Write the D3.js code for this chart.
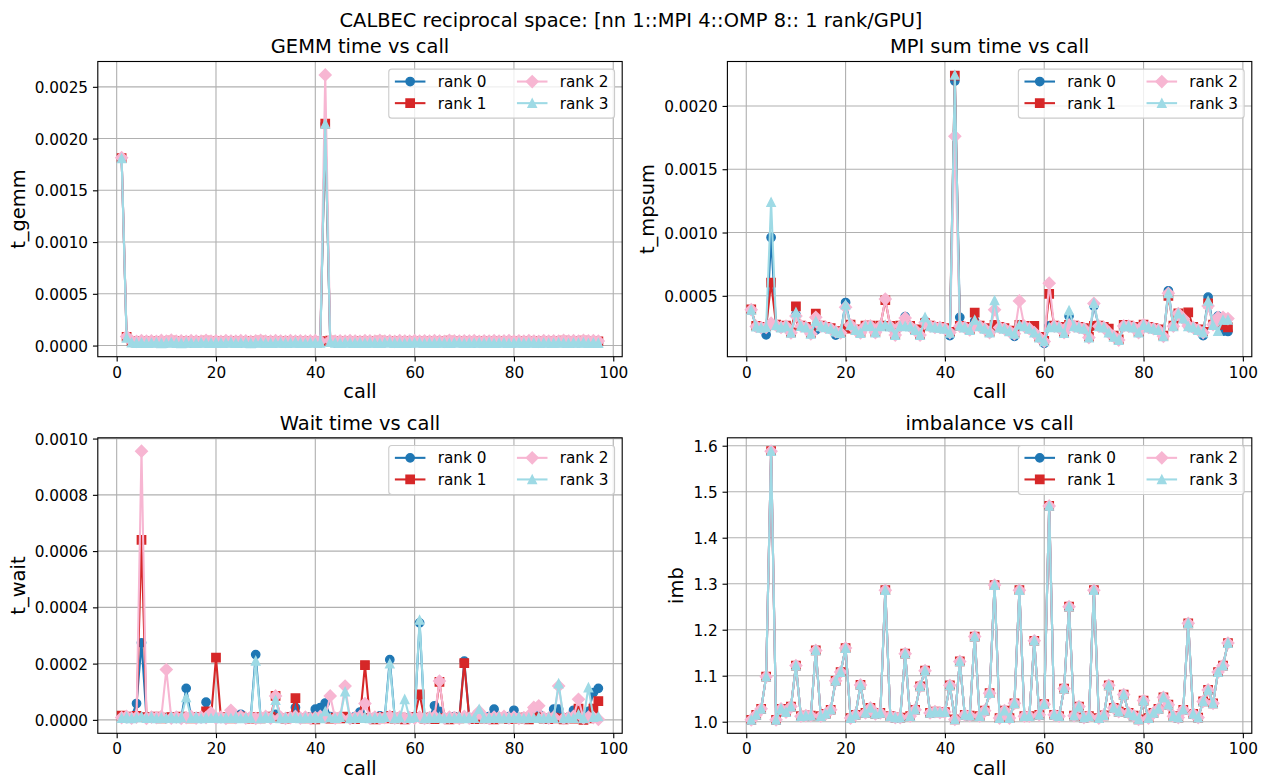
<!DOCTYPE html>
<html>
<head>
<meta charset="utf-8">
<script src="https://cdn.jsdelivr.net/npm/d3@7/dist/d3.min.js"></script>
<style>
html,body{margin:0;padding:0;background:#fff;}
svg text{font-family:"DejaVu Sans",sans-serif;fill:#000;}
</style>
</head>
<body>
<svg id="chart" width="1262" height="781"></svg>
<script>
// ================= DATA =================
const calls = d3.range(1, 98); // call index 1..97
const rankLabels = ["rank 0", "rank 1", "rank 2", "rank 3"];
const xTicks = [0, 20, 40, 60, 80, 100];
const gemmTicks = [0, 0.0005, 0.0010, 0.0015, 0.0020, 0.0025];
const mpsumTicks = [0.0005, 0.0010, 0.0015, 0.0020];
const waitTicks = [0, 0.0002, 0.0004, 0.0006, 0.0008, 0.0010];
const imbTicks = [1.0, 1.1, 1.2, 1.3, 1.4, 1.5, 1.6];

// GEMM time per call (microseconds)
const gemmRank0 = [1810,80,30,26,28,25,27,30,24,26, 33,25,24,28,26,24,30,27,25,29, 25,27,31,24,26,29,24,28,30,25, 24,27,29,25,26,31,25,24,28,27, 26,2140,35,26,24,29,27,25,30,25, 28,26,24,29,31,25,27,24,26,30, 28,24,27,25,29,26,24,28,30,24, 27,26,29,25,31,24,27,28,24,26, 30,25,29,27,24,28,26,25,30,27, 24,29,26,31,24,28,25];
const gemmRank1 = [1812,85,42,38,45,40,44,39,46,41, 48,40,43,39,45,42,40,47,41,44, 39,46,42,40,45,43,38,44,47,41, 40,45,42,39,46,41,44,40,43,45, 42,2145,48,41,44,40,46,42,39,45, 43,40,47,41,44,39,45,42,40,46, 41,44,40,45,42,39,47,43,40,44, 42,46,39,44,41,45,40,43,46,41, 44,40,45,42,39,46,41,44,40,47, 42,45,40,48,43,46,41];
const gemmRank2 = [1815,88,45,40,48,42,46,41,50,43, 52,42,45,41,47,44,42,49,43,46, 41,48,44,42,47,45,40,46,49,43, 42,47,44,41,48,43,46,42,45,47, 44,2615,50,43,46,42,48,44,41,47, 45,42,49,43,46,41,47,44,42,48, 43,46,42,47,44,41,49,45,42,46, 44,48,41,46,43,47,42,45,48,43, 46,42,47,44,41,48,43,46,42,49, 44,47,42,50,45,48,43];
const gemmRank3 = [1808,75,28,24,27,23,26,28,22,25, 30,24,22,27,25,23,28,26,24,27, 24,26,29,23,25,27,22,26,28,24, 23,26,28,24,25,29,24,23,27,26, 25,2142,32,25,23,27,26,24,28,24, 27,25,23,28,29,24,26,23,25,28, 27,23,26,24,28,25,23,27,28,23, 26,25,28,24,29,23,26,27,23,25, 28,24,28,26,23,27,25,24,28,26, 23,28,25,29,23,27,24];

// MPI sum time per call (microseconds)
const mpsumRank0 = [385,255,245,192,961,265,248,258,205,350, 262,248,198,230,258,250,238,190,205,447, 268,228,205,258,262,208,258,262,255,188, 258,336,255,228,188,300,258,248,246,238, 185,2196,330,248,228,300,258,238,208,262, 248,238,218,180,270,258,238,208,168,125, 262,258,248,205,340,258,248,238,168,420, 258,248,208,175,148,258,258,248,208,268, 248,238,228,178,540,258,360,318,258,248, 228,185,490,268,340,220,218];
const mpsumRank1 = [392,262,252,255,605,272,252,265,212,416, 265,255,205,360,265,255,245,222,212,240, 272,235,212,265,265,215,265,465,262,195, 265,270,262,235,195,285,265,255,255,245, 215,2240,262,255,235,368,265,245,215,270, 255,245,225,205,270,262,245,262,175,145, 516,265,255,215,270,265,255,245,175,262, 265,255,241,185,155,270,265,255,215,272, 255,245,235,185,500,265,362,325,370,255, 235,215,440,272,290,270,250];
const mpsumRank2 = [390,258,248,250,284,268,250,260,208,340, 262,250,200,330,260,252,240,218,208,410, 270,230,208,260,262,210,260,474,258,190, 260,325,258,230,190,290,260,250,250,240, 210,1760,260,250,230,270,260,240,210,390, 250,240,220,200,460,260,240,210,170,140, 600,260,250,210,270,260,250,240,170,440, 260,250,210,180,150,262,260,250,210,270, 250,240,230,180,520,260,360,320,262,250, 230,210,420,272,330,330,320];
const mpsumRank3 = [388,256,246,252,1240,266,249,259,207,370, 260,249,199,300,259,251,239,216,206,430, 267,229,206,259,261,209,259,270,256,189, 259,260,256,229,189,330,259,249,247,239, 208,2245,262,249,229,310,259,239,209,463, 249,239,219,199,270,259,239,209,169,139, 250,259,249,206,384,259,249,239,169,442, 259,249,209,176,149,259,259,249,209,269, 249,239,229,179,520,259,360,320,259,249, 229,209,460,268,220,310,310];

// Wait time per call (microseconds)
const waitRank0 = [10,5,12,58,274,8,12,6,10,5, 8,12,6,112,8,10,5,63,12,6, 10,8,18,5,20,6,10,232,6,8, 12,20,8,6,12,44,8,6,10,38, 44,60,12,6,10,8,6,12,28,8, 6,10,14,12,214,6,10,8,6,12, 345,6,10,50,30,8,6,12,6,209, 8,10,6,8,12,38,6,8,12,34, 6,10,8,12,20,6,8,38,38,6, 10,34,12,8,30,97,112];
const waitRank1 = [15,12,8,14,640,10,6,12,5,8, 10,6,12,8,5,10,6,30,8,221, 6,10,5,8,12,6,4,10,5,8, 12,85,6,4,10,77,6,5,8,2, 10,6,4,8,5,12,6,3,8,195, 6,2,10,5,14,4,8,2,6,10, 91,4,8,3,135,6,2,8,5,202, 6,3,8,4,6,2,8,5,3,6, 4,8,2,6,10,4,3,8,5,2, 6,4,40,0,5,40,67];
const waitRank2 = [8,12,6,10,955,5,10,8,12,179, 6,10,5,8,12,6,10,8,25,6, 10,5,34,8,12,6,10,5,8,12, 6,85,10,5,8,12,6,10,5,8, 12,10,85,6,10,120,5,8,12,58, 6,10,5,8,12,6,10,5,8,6, 10,5,8,12,138,6,10,8,5,12, 6,10,30,8,5,10,8,12,6,10, 5,8,15,44,50,8,6,10,120,5, 8,12,73,6,10,8,2];
const waitRank3 = [6,10,5,8,12,6,10,5,8,6, 10,5,8,80,6,10,5,8,6,10, 5,8,6,10,5,8,6,210,5,10, 6,70,5,8,6,10,5,8,6,10, 5,30,8,6,10,100,5,8,6,10, 5,8,6,10,200,5,8,73,6,10, 355,5,8,6,10,5,8,6,10,5, 8,6,38,5,8,6,10,5,8,6, 10,5,8,6,10,5,8,6,129,5, 8,6,20,5,115,10,12];

// Imbalance per call (identical for every rank)
const imbalance = [1.004,1.015,1.028,1.098,1.588,1.004,1.028,1.021,1.033,1.122, 1.012,1.013,1.013,1.155,1.012,1.017,1.026,1.089,1.108,1.160, 1.008,1.015,1.080,1.019,1.030,1.017,1.019,1.286,1.012,1.009, 1.009,1.148,1.012,1.026,1.077,1.111,1.019,1.022,1.020,1.021, 1.079,1.005,1.131,1.015,1.013,1.185,1.012,1.024,1.062,1.297, 1.008,1.024,1.008,1.040,1.286,1.012,1.012,1.176,1.015,1.038, 1.469,1.015,1.012,1.072,1.250,1.013,1.033,1.009,1.012,1.286, 1.008,1.014,1.079,1.030,1.022,1.059,1.019,1.013,1.005,1.046, 1.008,1.019,1.028,1.053,1.037,1.012,1.009,1.026,1.214,1.017, 1.009,1.044,1.069,1.040,1.108,1.122,1.171];

// ================= DRAWING =================
const toSec = a => a.map(v => v * 1e-6);
const svg = d3.select('#chart');
const colors = ['#1f77b4', '#d62728', '#f7b6d2', '#9edae5'];
const markerKinds = ['circle', 'square', 'diamond', 'triangle'];
const TICK_FS = 15.28, LABEL_FS = 19.44;
const MS = 8.33, LW = 2.08, MEW = 1.39, GRID_W = 1.11;

function markerPath(kind) {
  const h = MS / 2;
  if (kind === 'circle') return d3.symbol(d3.symbolCircle, Math.PI * h * h)();
  if (kind === 'square') return `M${-h},${-h}H${h}V${h}H${-h}Z`;
  if (kind === 'diamond') { const d = h * Math.SQRT2; return `M0,${-d}L${d},0L0,${d}L${-d},0Z`; }
  return `M0,${-h}L${h},${h}L${-h},${h}Z`;
}

const panels = [
  {title: 'GEMM time vs call', ylabel: 't_gemm', series: [gemmRank0, gemmRank1, gemmRank2, gemmRank3].map(toSec), yTicks: gemmTicks, fmt: d3.format('.4f'), box: [97.8, 61.5, 524.4, 295.2]},
  {title: 'MPI sum time vs call', ylabel: 't_mpsum', series: [mpsumRank0, mpsumRank1, mpsumRank2, mpsumRank3].map(toSec), yTicks: mpsumTicks, fmt: d3.format('.4f'), box: [727.4, 61.5, 524.4, 295.2]},
  {title: 'Wait time vs call', ylabel: 't_wait', series: [waitRank0, waitRank1, waitRank2, waitRank3].map(toSec), yTicks: waitTicks, fmt: d3.format('.4f'), box: [97.8, 437.8, 524.4, 295.5]},
  {title: 'imbalance vs call', ylabel: 'imb', series: [imbalance, imbalance, imbalance, imbalance], yTicks: imbTicks, fmt: d3.format('.1f'), box: [727.4, 437.8, 524.4, 295.5]}
];

svg.append('text').attr('x', 631).attr('y', 27).attr('text-anchor', 'middle')
  .attr('font-size', LABEL_FS).text('CALBEC reciprocal space: [nn 1::MPI 4::OMP 8:: 1 rank/GPU]');

panels.forEach(p => {
  const [L, T, Wd, Ht] = p.box;
  const g = svg.append('g');
  const xe = d3.extent(calls), xr = xe[1] - xe[0];
  const x = d3.scaleLinear().domain([xe[0] - 0.05 * xr, xe[1] + 0.05 * xr]).range([L, L + Wd]);
  const ye = d3.extent(p.series.flat()), yr = ye[1] - ye[0];
  const y = d3.scaleLinear().domain([ye[0] - 0.05 * yr, ye[1] + 0.05 * yr]).range([T + Ht, T]);

  // grid
  g.append('g').selectAll('line').data(xTicks).join('line')
    .attr('x1', d => x(d)).attr('x2', d => x(d)).attr('y1', T).attr('y2', T + Ht)
    .attr('stroke', '#b0b0b0').attr('stroke-width', GRID_W);
  g.append('g').selectAll('line').data(p.yTicks).join('line')
    .attr('y1', d => y(d)).attr('y2', d => y(d)).attr('x1', L).attr('x2', L + Wd)
    .attr('stroke', '#b0b0b0').attr('stroke-width', GRID_W);

  // series
  p.series.forEach((vals, i) => {
    const pts = vals.map((v, j) => [x(calls[j]), y(v)]);
    g.append('path').attr('d', d3.line()(pts)).attr('fill', 'none')
      .attr('stroke', colors[i]).attr('stroke-width', LW).attr('stroke-linejoin', 'round');
    g.append('g').selectAll('path').data(pts).join('path')
      .attr('transform', d => `translate(${d[0]},${d[1]})`)
      .attr('d', markerPath(markerKinds[i]))
      .attr('fill', colors[i]).attr('stroke', colors[i]).attr('stroke-width', MEW);
  });

  // spines
  g.append('rect').attr('x', L).attr('y', T).attr('width', Wd).attr('height', Ht)
    .attr('fill', 'none').attr('stroke', '#000').attr('stroke-width', GRID_W);

  // axes
  const xa = g.append('g').attr('transform', `translate(0,${T + Ht})`)
    .call(d3.axisBottom(x).tickValues(xTicks).tickFormat(d3.format('d')).tickSize(4.86).tickPadding(5.2));
  const ya = g.append('g').attr('transform', `translate(${L},0)`)
    .call(d3.axisLeft(y).tickValues(p.yTicks).tickFormat(p.fmt).tickSize(4.86).tickPadding(4.86));
  [xa, ya].forEach(a => {
    a.select('.domain').remove();
    a.attr('font-family', null).attr('font-size', TICK_FS);
    a.selectAll('line').attr('stroke', '#000').attr('stroke-width', GRID_W);
    a.selectAll('text').attr('fill', '#000');
  });
  ya.selectAll('text').attr('dy', '0.36em');

  // title & labels
  g.append('text').attr('x', L + Wd / 2).attr('y', T - 8.3).attr('text-anchor', 'middle')
    .attr('font-size', LABEL_FS).text(p.title);
  g.append('text').attr('x', L + Wd / 2).attr('y', T + Ht + 41.5).attr('text-anchor', 'middle')
    .attr('font-size', LABEL_FS).text('call');
  const minX = d3.min(ya.selectAll('text').nodes(), n => n.getBBox().x) + L;
  const lx = minX - 5.56 - 0.236 * LABEL_FS;
  g.append('text').attr('transform', `translate(${lx},${T + Ht / 2}) rotate(-90)`)
    .attr('text-anchor', 'middle').attr('font-size', LABEL_FS).text(p.ylabel);

  // legend (2 columns)
  const lg = g.append('g');
  const pad = 0.4 * TICK_FS, hl = 2 * TICK_FS, htp = 0.8 * TICK_FS, cs = 2 * TICK_FS;
  const rowY = [12.4, 34.0], boxH = 49;
  const measure = lg.append('text').attr('font-size', TICK_FS);
  const widths = rankLabels.map(t => { measure.text(t); return measure.node().getComputedTextLength(); });
  measure.remove();
  const col1W = Math.max(widths[0], widths[1]), col2W = Math.max(widths[2], widths[3]);
  const colX = [pad, pad + hl + htp + col1W + cs];
  const boxW = colX[1] + hl + htp + col2W + pad;
  const bx = L + Wd - 7.65 - boxW, by = T + 7.65;
  lg.append('rect').attr('x', bx).attr('y', by).attr('width', boxW).attr('height', boxH)
    .attr('rx', 3).attr('fill', '#fff').attr('fill-opacity', 0.8)
    .attr('stroke', '#cccccc').attr('stroke-width', 1.1);
  rankLabels.forEach((lab, i) => {
    const cx = bx + colX[Math.floor(i / 2)], cy = by + rowY[i % 2];
    lg.append('line').attr('x1', cx).attr('x2', cx + hl).attr('y1', cy).attr('y2', cy)
      .attr('stroke', colors[i]).attr('stroke-width', LW);
    lg.append('path').attr('transform', `translate(${cx + hl / 2},${cy})`).attr('d', markerPath(markerKinds[i]))
      .attr('fill', colors[i]).attr('stroke', colors[i]).attr('stroke-width', MEW);
    lg.append('text').attr('x', cx + hl + htp).attr('y', cy + 0.36 * TICK_FS)
      .attr('font-size', TICK_FS).text(lab);
  });
});
</script>
</body>
</html>
